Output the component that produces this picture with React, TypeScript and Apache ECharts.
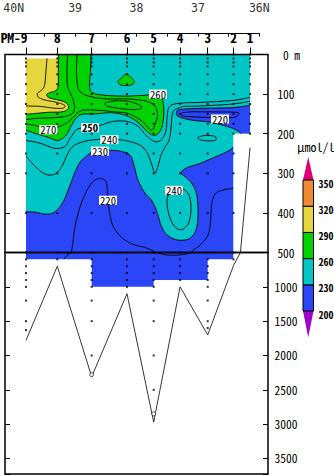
import React, { useEffect, useRef } from "react";
import * as echarts from "echarts";

// ---------------- data ----------------
const stationNames = ["PM-9", "8", "7", "6", "5", "4", "3", "2", "1"];
const stationLat = [39.8, 39.29, 38.73, 38.155, 37.72, 37.29, 36.84, 36.42, 36.15];
const bottomDepth = [1780, 700, 2310, 1100, 2970, 1000, 1700, 690, 235];
const firstSampleDepth = [10, 0, 0, 0, 0, 0, 0, 0, 0];
const lastSampleDepth = [1630, 600, 2280, 1000, 2850, 900, 1600, 600, 200];
const lastSampleIsRing = [false, false, true, false, true, false, false, false, false];
const standardDepths = [0, 10, 20, 30, 50, 75, 100, 125, 150, 175, 200, 250, 300, 400, 500, 600, 700, 800, 900, 1000, 1200, 1500, 2000, 2500];

const levelValues = [200, 230, 260, 290, 320, 350];
const levelColors = ["#2a46f6", "#00c6c6", "#00d200", "#e4d63c", "#ee8a30"];
const belowColor = "#a000c8";
const aboveColor = "#dc0070";

// contour lines, [latitude (deg N), depth (m)]
const c300 = [[39.458, 10], [39.474, 40], [39.498, 78], [39.555, 91], [39.612, 98], [39.596, 108], [39.49, 115], [39.327, 120], [39.197, 126], [39.164, 131], [39.213, 136], [39.376, 135], [39.572, 131], [39.8, 130]];
const c290 = [[39.27, 0], [39.273, 40], [39.278, 81], [39.327, 92], [39.425, 97], [39.466, 103], [39.409, 110], [39.246, 116], [39.148, 122], [39.107, 131], [39.132, 140], [39.23, 145], [39.441, 146], [39.653, 149], [39.8, 151]];
const c280 = [[39.124, 0], [39.132, 40], [39.124, 78], [39.075, 98], [39.026, 118], [39.01, 136], [39.05, 150], [39.181, 157], [39.409, 160], [39.604, 161], [39.8, 164]];
const c280Eye = [[38.513, 123], [38.35, 117], [38.138, 118], [37.976, 126], [37.91, 134], [38.008, 139], [38.236, 137], [38.464, 131]];
const c270 = [[38.969, 0], [38.977, 40], [38.961, 78], [38.904, 96], [38.757, 106], [38.513, 112], [38.187, 112], [37.943, 115], [37.78, 121], [37.682, 134], [37.658, 154], [37.699, 176], [37.747, 191], [37.813, 184], [37.927, 166], [38.138, 149], [38.35, 145], [38.594, 141], [38.839, 140], [38.94, 145], [39.002, 154], [39.067, 164], [39.148, 174], [39.278, 183], [39.441, 189], [39.653, 179], [39.8, 176]];
const c260 = [[38.741, 0], [38.749, 40], [38.765, 81], [38.708, 97], [38.513, 103], [38.187, 105], [37.862, 103], [37.699, 101], [37.601, 108], [37.56, 128], [37.56, 159], [37.593, 186], [37.666, 202], [37.747, 203], [37.829, 194], [37.943, 176], [38.073, 161], [38.236, 151], [38.432, 147], [38.676, 150], [38.887, 151], [38.985, 161], [39.067, 181], [39.148, 204], [39.278, 217], [39.441, 209], [39.653, 199], [39.8, 191]];
const c260Lens = [[38.163, 49], [38.089, 58], [38.032, 68], [38.089, 77], [38.163, 78], [38.253, 77], [38.301, 68], [38.236, 58]];
const c250 = [[39.8, 217], [39.572, 224], [39.327, 237], [39.164, 232], [39.083, 212], [38.985, 191], [38.855, 184], [38.757, 183], [38.594, 179], [38.383, 169], [38.155, 169], [37.976, 181], [37.845, 204], [37.699, 220], [37.585, 214], [37.519, 191], [37.503, 161], [37.479, 136], [37.405, 126], [37.21, 122], [36.966, 121], [36.428, 116], [36.15, 108]];
const c240 = [[39.8, 257], [39.653, 282], [39.49, 302], [39.327, 302], [39.213, 282], [39.132, 254], [39.034, 232], [38.839, 219], [38.594, 214], [38.35, 214], [38.138, 219], [37.943, 229], [37.829, 247], [37.747, 280], [37.699, 300], [37.65, 282], [37.601, 254], [37.536, 234], [37.471, 217], [37.438, 186], [37.422, 156], [37.389, 141], [37.291, 134], [37.21, 131], [36.966, 130], [36.428, 125], [36.15, 118]];
const c240Small = [[36.966, 207], [36.852, 204], [36.721, 207], [36.705, 213], [36.721, 217], [36.852, 218], [36.966, 215], [36.998, 210]];
const c240Core = [[37.389, 340], [37.259, 338], [37.145, 355], [37.112, 388], [37.145, 423], [37.243, 441], [37.357, 438], [37.454, 413], [37.503, 375], [37.471, 350]];
const c230 = [[39.8, 397], [39.653, 398], [39.49, 403], [39.376, 401], [39.278, 390], [39.181, 368], [39.083, 330], [39.002, 297], [38.92, 272], [38.822, 257], [38.725, 247], [38.594, 243], [38.432, 242], [38.269, 244], [38.106, 254], [38.041, 280], [37.976, 317], [37.862, 350], [37.747, 370], [37.666, 398], [37.601, 431], [37.519, 453], [37.389, 466], [37.259, 469], [37.129, 464], [37.031, 443], [36.998, 406], [37.015, 358], [37.08, 330], [37.194, 310], [37.275, 300], [37.194, 287], [36.966, 275], [36.721, 259], [36.51, 244], [36.423, 234]];
const c230Lens = [[36.15, 128], [36.428, 134], [36.966, 136], [37.291, 139], [37.348, 146], [37.324, 156], [37.129, 165], [36.803, 171], [36.559, 180], [36.396, 189], [36.29, 200]];
const c220Lens = [[37.275, 149], [37.129, 145], [36.803, 145], [36.379, 146], [36.347, 152], [36.428, 159], [36.803, 159], [37.129, 157], [37.243, 155]];
const c220 = [[39.18, 600], [39.132, 540], [39.055, 494], [39.002, 435], [38.92, 385], [38.839, 353], [38.757, 330], [38.676, 317], [38.594, 313], [38.529, 316], [38.485, 327], [38.464, 368], [38.432, 406], [38.378, 435], [38.269, 458], [38.16, 471], [38.024, 481], [37.834, 489], [37.666, 503], [37.536, 532], [37.373, 539], [37.21, 525], [37.096, 497], [36.982, 484], [36.901, 471], [36.835, 456], [36.803, 435], [36.786, 406], [36.775, 376], [36.738, 358], [36.689, 348], [36.559, 341], [36.423, 338]];

const contourLabelText = ["270", "250", "240", "230", "260", "220", "220", "240"];
const contourLabelLat = [39.437, 38.757, 38.443, 38.594, 37.65, 36.64, 38.464, 37.389];
const contourLabelDepth = [190, 185, 215, 244, 100, 163, 368, 343];
const contourLabelBold = [false, true, false, false, false, false, false, false];

// ---------------- helpers ----------------
const MONO = '"Noto Sans Mono CJK JP", "DejaVu Sans Mono", monospace';
const LAT_MIN = 35.858;
const LAT_MAX = 40.142;
const DEEP = 5000;

function smooth(pts: number[][], closed = false, n = 8): number[][] {
  const N = pts.length;
  if (N < 3) return pts.slice();
  const at = (i: number) => (closed ? pts[((i % N) + N) % N] : pts[Math.min(N - 1, Math.max(0, i))]);
  const out: number[][] = [];
  const segs = closed ? N : N - 1;
  for (let i = 0; i < segs; i++) {
    const p0 = at(i - 1), p1 = at(i), p2 = at(i + 1), p3 = at(i + 2);
    for (let k = 0; k < n; k++) {
      const t = k / n, t2 = t * t, t3 = t2 * t;
      out.push([0, 1].map((j) => 0.5 * (2 * p1[j] + (p2[j] - p0[j]) * t + (2 * p0[j] - 5 * p1[j] + 4 * p2[j] - p3[j]) * t2 + (3 * p1[j] - p0[j] - 3 * p2[j] + p3[j]) * t3)));
    }
  }
  if (!closed) out.push(pts[N - 1]);
  return out;
}

const nPairs = stationLat.length - 1;
const pairTop = Array.from({ length: nPairs }, (_, i) => Math.max(firstSampleDepth[i], firstSampleDepth[i + 1]));
const pairBottom = Array.from({ length: nPairs }, (_, i) => Math.min(lastSampleDepth[i], lastSampleDepth[i + 1]));

function buildOption() {
  const latW = stationLat[0];
  const latE = stationLat[stationLat.length - 1];

  const domain: number[][] = [];
  for (let i = 0; i < nPairs; i++) domain.push([stationLat[i], pairTop[i]], [stationLat[i + 1], pairTop[i]]);
  for (let i = nPairs - 1; i >= 0; i--) domain.push([stationLat[i + 1], pairBottom[i]], [stationLat[i], pairBottom[i]]);

  const fills = [
    { pts: domain, color: levelColors[1] },
    { pts: [...smooth(c260), [latW, 0]], color: levelColors[2] },
    { pts: smooth(c260Lens, true), color: levelColors[2] },
    { pts: [...smooth(c290), [latW, 0]], color: levelColors[3] },
    { pts: [...smooth(c230), [stationLat[7], DEEP], [latW, DEEP]], color: levelColors[0] },
    { pts: [...smooth(c230Lens), [latE, pairBottom[7]]], color: levelColors[0] },
  ];

  const masks: { pts: number[][]; color: string }[] = [];
  const mb: number[][] = [];
  for (let i = 0; i < nPairs; i++) mb.push([stationLat[i], pairBottom[i]], [stationLat[i + 1], pairBottom[i]]);
  mb.push([latE, DEEP], [latW, DEEP]);
  masks.push({ pts: mb, color: "#ffffff" });
  for (let i = 0; i < nPairs; i++) {
    if (pairTop[i] > 0) masks.push({ pts: [[stationLat[i], -10], [stationLat[i + 1], -10], [stationLat[i + 1], pairTop[i]], [stationLat[i], pairTop[i]]], color: "#ffffff" });
  }

  const lines = [
    { pts: c300 }, { pts: c290 }, { pts: c280 }, { pts: c280Eye, closed: true }, { pts: c270 },
    { pts: c260 }, { pts: c260Lens, closed: true }, { pts: c250 }, { pts: c240 },
    { pts: c240Small, closed: true }, { pts: c240Core, closed: true }, { pts: c230 },
    { pts: c230Lens }, { pts: c220Lens, closed: true }, { pts: c220 },
  ].map((l) => ({ pts: smooth(l.pts, !!l.closed), closed: !!l.closed }));

  const dotsUpper: number[][] = [];
  const dotsLower: number[][] = [];
  const rings: number[][] = [];
  stationLat.forEach((lat, i) => {
    const depths = standardDepths.filter((d) => d >= firstSampleDepth[i] && d <= lastSampleDepth[i]);
    if (!standardDepths.includes(lastSampleDepth[i])) {
      if (lastSampleIsRing[i]) rings.push([lat, lastSampleDepth[i]]);
      else depths.push(lastSampleDepth[i]);
    }
    depths.forEach((d) => (d <= 500 ? dotsUpper : dotsLower).push([lat, d]));
  });
  const bathy = stationLat.map((lat, i) => [lat, bottomDepth[i]]);

  const polySeries = (items: any[], xi: number, yi: number, z: number, kind: "fill" | "line") => ({
    type: "custom",
    coordinateSystem: "cartesian2d",
    xAxisIndex: xi,
    yAxisIndex: yi,
    clip: true,
    silent: true,
    z,
    data: items.map((_: any, i: number) => [38, 300, i]),
    renderItem: (params: any, api: any) => {
      const it = items[params.dataIndex];
      const pts = it.pts.map((p: number[]) => api.coord(p));
      if (kind === "fill") return { type: "polygon", shape: { points: pts }, style: { fill: it.color, stroke: null } };
      return { type: "polyline", shape: { points: it.closed ? [...pts, pts[0]] : pts }, style: { stroke: "#000", lineWidth: 0.9, fill: null } };
    },
  });

  const frameSeries = (xi: number, yi: number, d0: number, d1: number) => ({
    type: "custom",
    coordinateSystem: "cartesian2d",
    xAxisIndex: xi,
    yAxisIndex: yi,
    silent: true,
    z: 12,
    data: [[38, d0]],
    renderItem: (_p: any, api: any) => {
      const a = api.coord([LAT_MAX, d0]);
      const b = api.coord([LAT_MIN, d1]);
      return { type: "rect", shape: { x: a[0], y: a[1], width: b[0] - a[0], height: b[1] - a[1] }, style: { fill: null, stroke: "#000", lineWidth: 1.5 } };
    },
  });

  const depthAxis = (grid: number, pos: "left" | "right", min: number, max: number, interval: number, labels: boolean) => ({
    type: "value",
    gridIndex: grid,
    position: pos,
    min,
    max,
    interval,
    inverse: true,
    z: 13,
    axisLine: { show: false },
    axisTick: { show: true, inside: true, length: 5, lineStyle: { color: "#000", width: 1 } },
    splitLine: { show: false },
    axisLabel: labels
      ? {
          show: true,
          align: "center",
          margin: 18,
          fontSize: 11.5,
          fontFamily: MONO,
          color: "#000",
          formatter: (v: number) => {
            if (grid === 0) return v === 0 ? "{z|0 m}" : String(v);
            return v % 500 === 0 && v !== 500 ? String(v) : "";
          },
          rich: { z: { padding: [0, 0, 0, 11], fontSize: 11.5, fontFamily: MONO, color: "#000" } },
        }
      : { show: false },
  });

  const gridBase = { show: false, containLabel: false, outerBoundsMode: "none" };

  return {
    animation: false,
    backgroundColor: "#ffffff",
    title: {
      text: "\u03bcmol/l",
      left: 292,
      top: 135,
      textStyle: { fontSize: 12, fontWeight: "normal", fontFamily: MONO, color: "#000" },
    },
    grid: [
      { ...gridBase, left: 5, top: 54.5, width: 263, height: 198 },
      { ...gridBase, left: 5, top: 252.5, width: 263, height: 221.5 },
      { ...gridBase, left: 13.7, top: 13.6, width: 245.6, height: 20 },
      { ...gridBase, left: 303, top: 156.9, width: 10.5, height: 180.3 },
    ],
    xAxis: [
      {
        type: "value", gridIndex: 2, position: "top", min: 36, max: 40, interval: 0.5, inverse: true,
        axisLine: { show: true, lineStyle: { color: "#000", width: 1 } },
        axisTick: { show: true, inside: true, length: 3, lineStyle: { color: "#000" } },
        splitLine: { show: false },
        axisLabel: {
          margin: 0, fontSize: 11.5, lineHeight: 12, fontFamily: '"DejaVu Sans Mono", monospace', color: "#333",
          formatter: (v: number) => (v === 40 ? "40N" : v === 36 ? "36N" : Number.isInteger(v) ? String(v) : ""),
        },
      },
      {
        type: "value", gridIndex: 0, position: "top", min: LAT_MIN, max: LAT_MAX, inverse: true, z: 13,
        axisLine: { show: false },
        splitLine: { show: false },
        axisTick: { show: true, customValues: stationLat, length: 7, lineStyle: { color: "#000" } },
        axisLabel: {
          customValues: stationLat,
          margin: 10, fontSize: 13.3, fontWeight: "bold", fontFamily: MONO, color: "#000",
          formatter: (v: number) => {
            const i = stationLat.findIndex((l) => Math.abs(l - v) < 1e-6);
            const name = i >= 0 ? stationNames[i] : "";
            return i === 0 ? `{pm|${name}}` : name;
          },
          rich: { pm: { padding: [0, 24, 0, 0], fontSize: 13.3, fontWeight: "bold", fontFamily: MONO, color: "#000" } },
        },
      },
      { type: "value", gridIndex: 1, min: LAT_MIN, max: LAT_MAX, inverse: true, show: false },
      { type: "value", gridIndex: 3, min: 0, max: 1, show: false },
    ],
    yAxis: [
      depthAxis(0, "right", 0, 500, 100, true),
      depthAxis(0, "left", 0, 500, 100, false),
      depthAxis(1, "right", 500, 3726, 500, true),
      depthAxis(1, "left", 500, 3726, 500, false),
      { type: "value", gridIndex: 2, show: false, min: 0, max: 1 },
      { type: "value", gridIndex: 3, show: false, min: 170, max: 376.5 },
    ],
    series: [
      polySeries(fills, 1, 0, 1, "fill"),
      polySeries(fills, 2, 2, 1, "fill"),
      polySeries(masks, 1, 0, 2, "fill"),
      polySeries(masks, 2, 2, 2, "fill"),
      polySeries(lines, 1, 0, 3, "line"),
      polySeries(lines, 2, 2, 3, "line"),
      { type: "line", xAxisIndex: 1, yAxisIndex: 0, data: bathy, showSymbol: false, silent: true, z: 4, lineStyle: { color: "#000", width: 0.8 } },
      { type: "line", xAxisIndex: 2, yAxisIndex: 2, data: bathy, showSymbol: false, silent: true, z: 4, lineStyle: { color: "#000", width: 0.8 } },
      { type: "scatter", xAxisIndex: 1, yAxisIndex: 0, data: dotsUpper, symbol: "rect", symbolSize: 2, silent: true, z: 5, itemStyle: { color: "#000" } },
      { type: "scatter", xAxisIndex: 2, yAxisIndex: 2, data: dotsLower, symbol: "rect", symbolSize: 2, silent: true, z: 5, itemStyle: { color: "#000" } },
      { type: "scatter", xAxisIndex: 2, yAxisIndex: 2, data: rings, symbol: "circle", symbolSize: 4, silent: true, z: 5, itemStyle: { color: "#fff", borderColor: "#000", borderWidth: 0.8 } },
      {
        type: "custom", coordinateSystem: "cartesian2d", xAxisIndex: 1, yAxisIndex: 0, silent: true, z: 8,
        data: contourLabelText.map((_, i) => [contourLabelLat[i], contourLabelDepth[i]]),
        renderItem: (params: any, api: any) => {
          const i = params.dataIndex;
          const p = api.coord([contourLabelLat[i], contourLabelDepth[i]]);
          return {
            type: "text", x: p[0], y: p[1],
            style: {
              text: contourLabelText[i], fill: "#000", fontSize: 10.7, lineHeight: 9, fontFamily: MONO,
              fontWeight: contourLabelBold[i] ? "bold" : "normal",
              align: "center", verticalAlign: "middle", backgroundColor: "#fff", padding: [0, 1, 0, 1],
            },
          };
        },
      },
      frameSeries(1, 0, 0, 500),
      frameSeries(2, 2, 500, 3726),
      {
        type: "custom", coordinateSystem: "cartesian2d", xAxisIndex: 3, yAxisIndex: 5, silent: true, z: 6,
        data: [[0.5, 275]],
        renderItem: (_p: any, api: any) => {
          const children: any[] = [];
          const lo = api.coord([0, levelValues[0]]);
          const hiR = api.coord([1, levelValues[0]]);
          const tipLo = api.coord([0.5, 170]);
          children.push({ type: "polygon", shape: { points: [lo, hiR, tipLo] }, style: { fill: belowColor, stroke: null } });
          const top = levelValues[levelValues.length - 1];
          const t0 = api.coord([0, top]);
          const t1 = api.coord([1, top]);
          const tipHi = api.coord([0.5, 376.5]);
          children.push({ type: "polygon", shape: { points: [t0, t1, tipHi] }, style: { fill: aboveColor, stroke: null } });
          for (let i = 0; i < levelColors.length; i++) {
            const a = api.coord([0, levelValues[i]]);
            const b = api.coord([1, levelValues[i + 1]]);
            children.push({ type: "rect", shape: { x: a[0], y: b[1], width: b[0] - a[0], height: a[1] - b[1] }, style: { fill: levelColors[i], stroke: "#000", lineWidth: 1 } });
          }
          levelValues.forEach((v) => {
            const p = api.coord([1, v]);
            children.push({
              type: "text", x: p[0] + 5, y: p[1] + 3,
              style: { text: String(v), fill: "#000", fontSize: 10, fontWeight: "bold", fontFamily: MONO, align: "left", verticalAlign: "middle" },
            });
          });
          return { type: "group", children };
        },
      },
    ],
  };
}

export default function App() {
  const ref = useRef<HTMLDivElement>(null);
  useEffect(() => {
    if (!ref.current) return;
    const chart = echarts.init(ref.current, null, { renderer: "svg" });
    chart.setOption(buildOption() as any);
    return () => chart.dispose();
  }, []);
  return <div ref={ref} style={{ position: "absolute", left: 0, top: 0, width: 334, height: 476 }} />;
}
